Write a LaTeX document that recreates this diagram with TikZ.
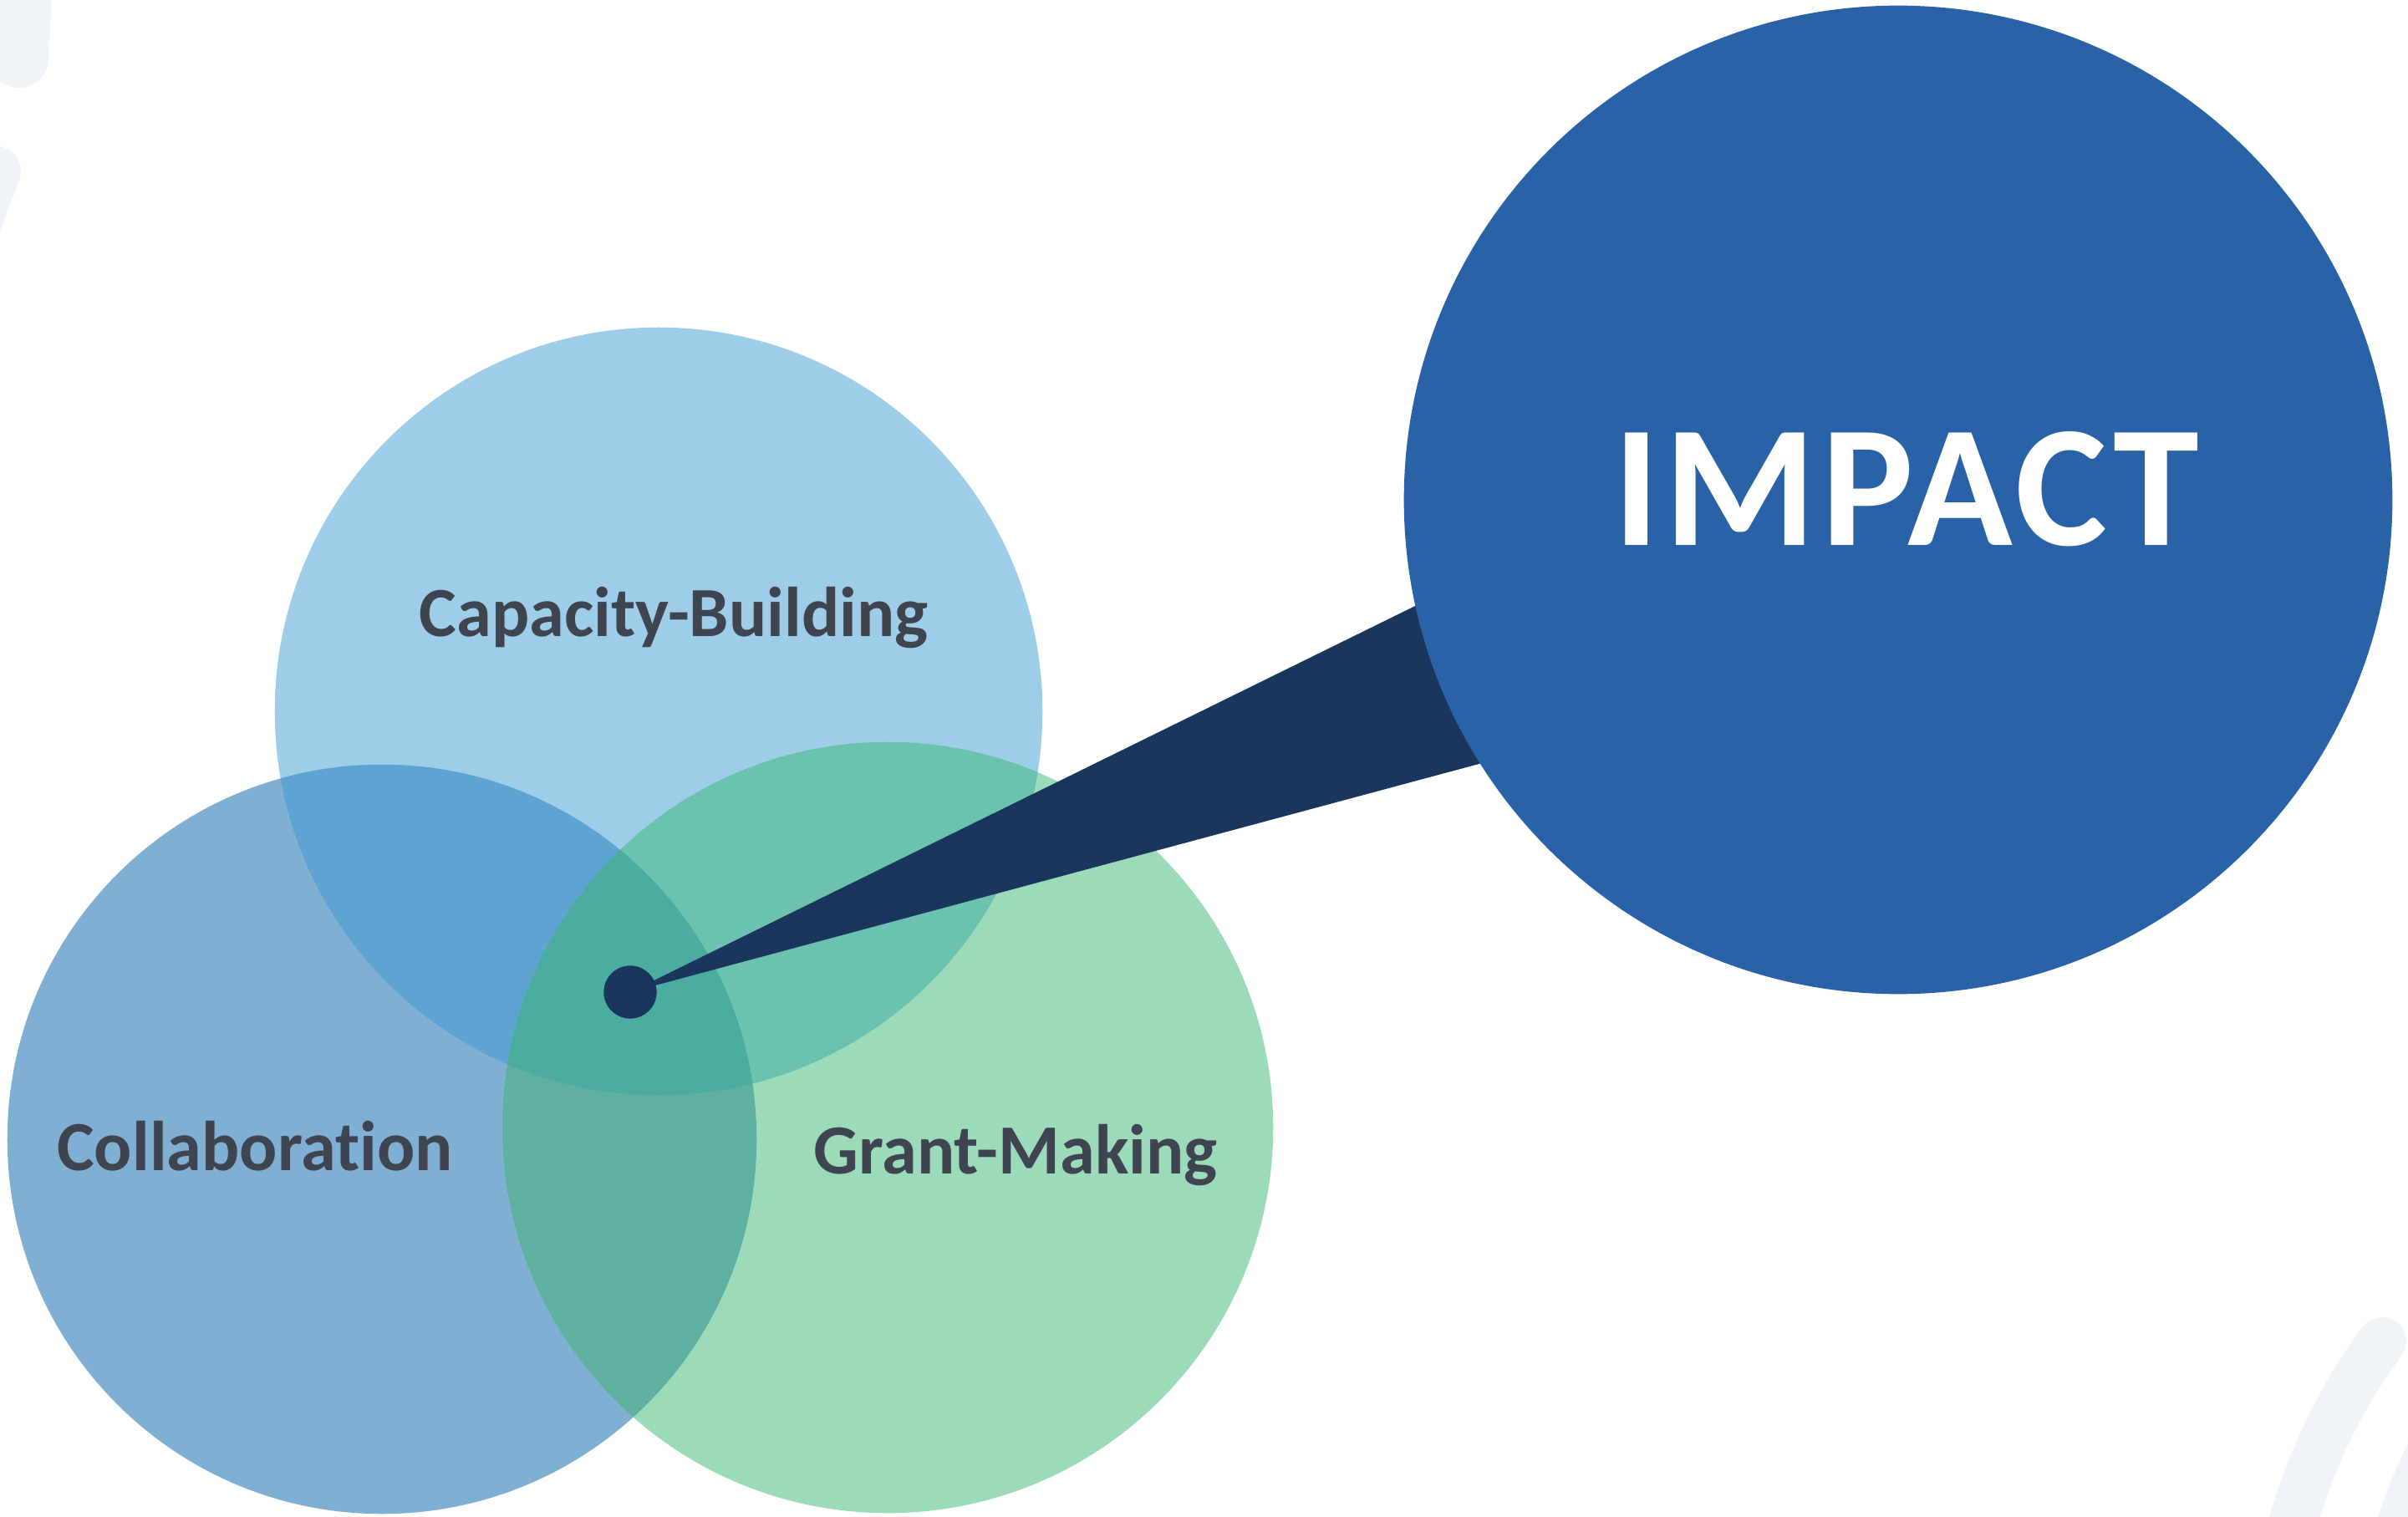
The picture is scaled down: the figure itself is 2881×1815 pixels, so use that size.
\documentclass[tikz,border=0pt]{standalone}
\usepackage{fontspec}
\setmainfont[Ligatures=NoCommon]{Carlito}
\definecolor{capC}{HTML}{9ECDE9}
\definecolor{colC}{HTML}{80AFD4}
\definecolor{grC}{HTML}{9BDBB9}
\definecolor{capcolC}{HTML}{5EA4D2}
\definecolor{capgrC}{HTML}{6BC2AE}
\definecolor{colgrC}{HTML}{5FB0A1}
\definecolor{allC}{HTML}{4BADA0}
\definecolor{impC}{HTML}{2A62A8}
\definecolor{navyC}{HTML}{1A365D}
\definecolor{txtC}{HTML}{3F4451}
\definecolor{decoC}{HTML}{F0F4F9}
\tikzset{
  lbl/.style={text=txtC, font=\fontsize{24}{28}\selectfont\bfseries, anchor=base, inner sep=0pt},
  implbl/.style={text=white, font=\fontsize{59}{64}\selectfont\bfseries\addfontfeature{LetterSpace=3}, anchor=base, inner sep=0pt},
  deco/.style={draw=decoC, line width=0.6cm, line cap=round},
  dotnode/.style={circle, fill=navyC, minimum size=0.63cm, inner sep=0pt},
  impnode/.style={circle, fill=impC, minimum size=11.82cm, inner sep=0pt},
}
\begin{document}
\begin{tikzpicture}[x=0.01cm, y=-0.01cm]
\useasboundingbox (0,0) rectangle (2881,1815);
% background decorations
\begin{scope}
\clip (0,0) rectangle (2881,1815);
\draw[deco, line width=0.7cm] (30,-60) -- (23,70);
\draw[deco] (-5,205) -- (-45,310);
\draw[deco, line width=0.58cm] (2850,1605) .. controls (2805,1665) and (2765,1740) .. (2738,1840);
\draw[deco, line width=0.58cm] (2935,1690) .. controls (2910,1730) and (2885,1780) .. (2868,1840);
\end{scope}
% venn centres
\coordinate (capc) at (788,851);
\coordinate (colc) at (457,1363);
\coordinate (grc) at (1062,1349);
\def\rcap{4.59cm}\def\rcol{4.48cm}\def\rgr{4.61cm}
\fill[capC] (capc) circle[radius=\rcap];
\fill[colC] (colc) circle[radius=\rcol];
\fill[grC] (grc) circle[radius=\rgr];
\begin{scope}
\clip (capc) circle[radius=\rcap];
\fill[capcolC] (colc) circle[radius=\rcol];
\fill[capgrC] (grc) circle[radius=\rgr];
\end{scope}
\begin{scope}
\clip (colc) circle[radius=\rcol];
\fill[colgrC] (grc) circle[radius=\rgr];
\end{scope}
\begin{scope}
\clip (capc) circle[radius=\rcap];
\clip (colc) circle[radius=\rcol];
\fill[allC] (grc) circle[radius=\rgr];
\end{scope}
% wedge, impact, dot
\node[dotnode] (dot) at (754,1187) {};
\coordinate (wu) at (2000,574);
\coordinate (wl) at (2000,852);
\fill[navyC] (dot.center) -- (wu) -- (wl) -- cycle;
\node[impnode] (impact) at (2271,598) {};
\node[dotnode] (dot2) at (dot.center) {};
% labels
\node[lbl] (caplbl) at (806,761) {Capacity-Building};
\node[lbl] (collbl) at (305,1400) {Collaboration};
\node[lbl] (grlbl) at (1215,1404) {Grant-Making};
\node[implbl] (implbl) at (2281,652) {IMPACT};
\end{tikzpicture}
\end{document}
